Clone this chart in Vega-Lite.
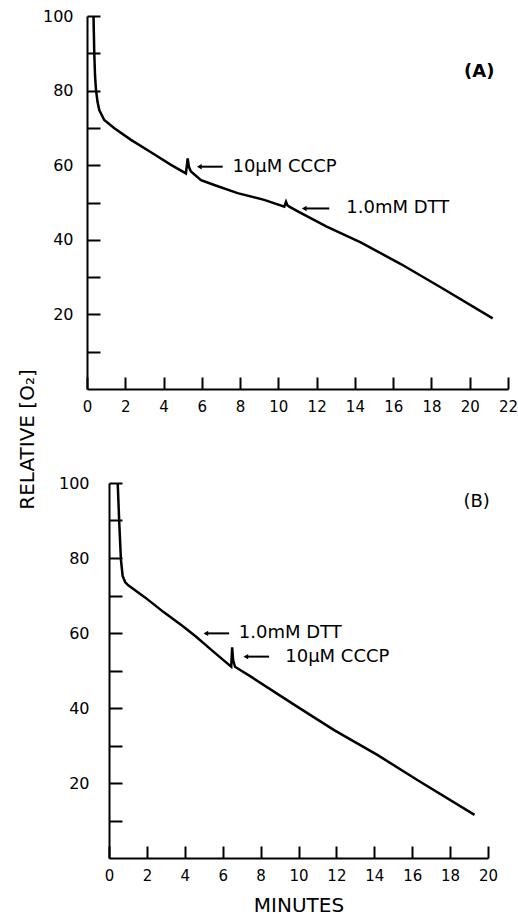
{
  "$schema": "https://vega.github.io/schema/vega-lite/v6.json",
  "padding": {"left": 16, "top": 8, "right": 5, "bottom": 0},
  "background": "#ffffff",
  "config": {
    "font": "DejaVu Sans",
    "view": {"stroke": null},
    "axis": {
      "grid": false,
      "domainColor": "#000000",
      "domainWidth": 2,
      "tickColor": "#000000",
      "tickWidth": 2,
      "labelColor": "#000000",
      "labelFontSize": 16,
      "labelFont": "DejaVu Sans",
      "labelOverlap": false,
      "titleColor": "#000000",
      "titleFont": "DejaVu Sans",
      "titleFontWeight": "normal"
    }
  },
  "datasets": {
    "curveA": [
      {"minutes": 0.34, "o2": 100}, {"minutes": 0.36, "o2": 95}, {"minutes": 0.38, "o2": 90},
      {"minutes": 0.42, "o2": 84}, {"minutes": 0.47, "o2": 80.2}, {"minutes": 0.55, "o2": 77},
      {"minutes": 0.64, "o2": 74.8}, {"minutes": 0.9, "o2": 72.1}, {"minutes": 1.43, "o2": 69.9},
      {"minutes": 2.3, "o2": 66.8}, {"minutes": 3.3, "o2": 63.6}, {"minutes": 4.39, "o2": 60.1},
      {"minutes": 5.17, "o2": 57.8}, {"minutes": 5.26, "o2": 61.8}, {"minutes": 5.33, "o2": 59.5},
      {"minutes": 5.43, "o2": 58.3}, {"minutes": 5.96, "o2": 56.0}, {"minutes": 6.65, "o2": 54.7},
      {"minutes": 7.87, "o2": 52.5}, {"minutes": 9.26, "o2": 50.7}, {"minutes": 10.31, "o2": 48.9},
      {"minutes": 10.4, "o2": 50.2}, {"minutes": 10.47, "o2": 49.3}, {"minutes": 10.57, "o2": 48.9},
      {"minutes": 11.09, "o2": 47.4}, {"minutes": 12.5, "o2": 43.6}, {"minutes": 14.3, "o2": 39.3},
      {"minutes": 16.4, "o2": 33.5}, {"minutes": 18.5, "o2": 27.2}, {"minutes": 21.2, "o2": 18.95}
    ],
    "curveB": [
      {"minutes": 0.46, "o2": 100}, {"minutes": 0.54, "o2": 89.5}, {"minutes": 0.63, "o2": 79.5},
      {"minutes": 0.72, "o2": 75.2}, {"minutes": 0.85, "o2": 73.6}, {"minutes": 1.0, "o2": 72.8},
      {"minutes": 1.9, "o2": 69.5}, {"minutes": 2.9, "o2": 65.5}, {"minutes": 3.9, "o2": 61.8},
      {"minutes": 4.6, "o2": 59.0}, {"minutes": 5.4, "o2": 55.5}, {"minutes": 6.1, "o2": 52.5},
      {"minutes": 6.45, "o2": 51.0}, {"minutes": 6.5, "o2": 56.2}, {"minutes": 6.55, "o2": 52.8},
      {"minutes": 6.65, "o2": 51.0}, {"minutes": 6.9, "o2": 50.2}, {"minutes": 7.49, "o2": 48.35},
      {"minutes": 9.95, "o2": 40.3}, {"minutes": 11.88, "o2": 34.1}, {"minutes": 14.16, "o2": 27.5},
      {"minutes": 16.27, "o2": 20.8}, {"minutes": 19.29, "o2": 11.5}
    ],
    "arrowsA": [
      {"minutes": 5.87, "tail": 7.09, "o2": 59.6},
      {"minutes": 11.35, "tail": 12.66, "o2": 48.4}
    ],
    "labelsA": [
      {"minutes": 7.6, "o2": 59.6, "label": "10μM  CCCP"},
      {"minutes": 13.55, "o2": 48.4, "label": "1.0mM   DTT"}
    ],
    "arrowsB": [
      {"minutes": 5.11, "tail": 6.34, "o2": 59.9},
      {"minutes": 7.22, "tail": 8.45, "o2": 53.7}
    ],
    "labelsB": [
      {"minutes": 6.85, "o2": 59.9, "label": "1.0mM   DTT"},
      {"minutes": 9.3, "o2": 53.7, "label": "10μM  CCCP"}
    ],
    "panelA": [{"minutes": 20.5, "o2": 85, "label": "(A)"}],
    "panelB": [{"minutes": 19.4, "o2": 95, "label": "(B)"}]
  },
  "bounds": "flush",
  "spacing": 94,
  "vconcat": [
    {
      "width": 421,
      "height": 373,
      "encoding": {
        "x": {"field": "minutes", "type": "quantitative",
          "scale": {"domain": [0, 22], "nice": false},
          "axis": {"title": null, "values": [0, 2, 4, 6, 8, 10, 12, 14, 16, 18, 20, 22], "tickSize": -12, "labelPadding": 22, "labelFlush": false, "labelOverlap": false, "labelFontSize": 15}},
        "y": {"field": "o2", "type": "quantitative",
          "scale": {"domain": [0, 100], "nice": false},
          "axis": {"title": null, "values": [10, 20, 30, 40, 50, 60, 70, 80, 90, 100], "labelExpr": "datum.value % 20 === 0 ? datum.label : ''", "tickSize": -13, "labelPadding": 27}}
      },
      "layer": [
        {
          "data": {"name": "curveA"},
          "mark": {"type": "line", "color": "#000000", "strokeWidth": 2.5}
        },
        {
          "data": {"name": "arrowsA"},
          "mark": {"type": "rule", "color": "#000000", "strokeWidth": 2},
          "encoding": {"x2": {"field": "tail"}}
        },
        {
          "data": {"name": "arrowsA"},
          "mark": {"type": "point", "shape": "triangle-left", "filled": true, "color": "#000000", "size": 30, "opacity": 1}
        },
        {
          "data": {"name": "labelsA"},
          "mark": {"type": "text", "align": "left", "baseline": "middle", "fontSize": 18, "color": "#000000"},
          "encoding": {"text": {"field": "label"}}
        },
        {
          "data": {"name": "panelA"},
          "mark": {"type": "text", "align": "center", "baseline": "middle", "fontSize": 18, "fontWeight": "bold", "color": "#000000"},
          "encoding": {"text": {"field": "label"}}
        }
      ]
    },
    {
      "width": 401,
      "height": 375,
      "encoding": {
        "x": {"field": "minutes", "type": "quantitative",
          "scale": {"domain": [0, 20], "nice": false, "range": [22, 401]},
          "axis": {"title": "MINUTES", "titleFontSize": 20, "titlePadding": 12, "values": [0, 2, 4, 6, 8, 10, 12, 14, 16, 18, 20], "tickSize": -12, "labelPadding": 22, "labelFlush": false, "labelOverlap": false, "labelFontSize": 15}},
        "y": {"field": "o2", "type": "quantitative",
          "scale": {"domain": [0, 100], "nice": false},
          "axis": {"title": "RELATIVE  [O₂]", "titleFontSize": 20, "titleX": -72, "titleY": -44, "offset": -22, "values": [10, 20, 30, 40, 50, 60, 70, 80, 90, 100], "labelExpr": "datum.value % 20 === 0 ? datum.label : ''", "tickSize": -13, "labelPadding": 33}}
      },
      "layer": [
        {
          "data": {"name": "curveB"},
          "mark": {"type": "line", "color": "#000000", "strokeWidth": 2.5}
        },
        {
          "data": {"name": "arrowsB"},
          "mark": {"type": "rule", "color": "#000000", "strokeWidth": 2},
          "encoding": {"x2": {"field": "tail"}}
        },
        {
          "data": {"name": "arrowsB"},
          "mark": {"type": "point", "shape": "triangle-left", "filled": true, "color": "#000000", "size": 30, "opacity": 1}
        },
        {
          "data": {"name": "labelsB"},
          "mark": {"type": "text", "align": "left", "baseline": "middle", "fontSize": 18, "color": "#000000"},
          "encoding": {"text": {"field": "label"}}
        },
        {
          "data": {"name": "panelB"},
          "mark": {"type": "text", "align": "center", "baseline": "middle", "fontSize": 18, "color": "#000000"},
          "encoding": {"text": {"field": "label"}}
        }
      ]
    }
  ]
}
